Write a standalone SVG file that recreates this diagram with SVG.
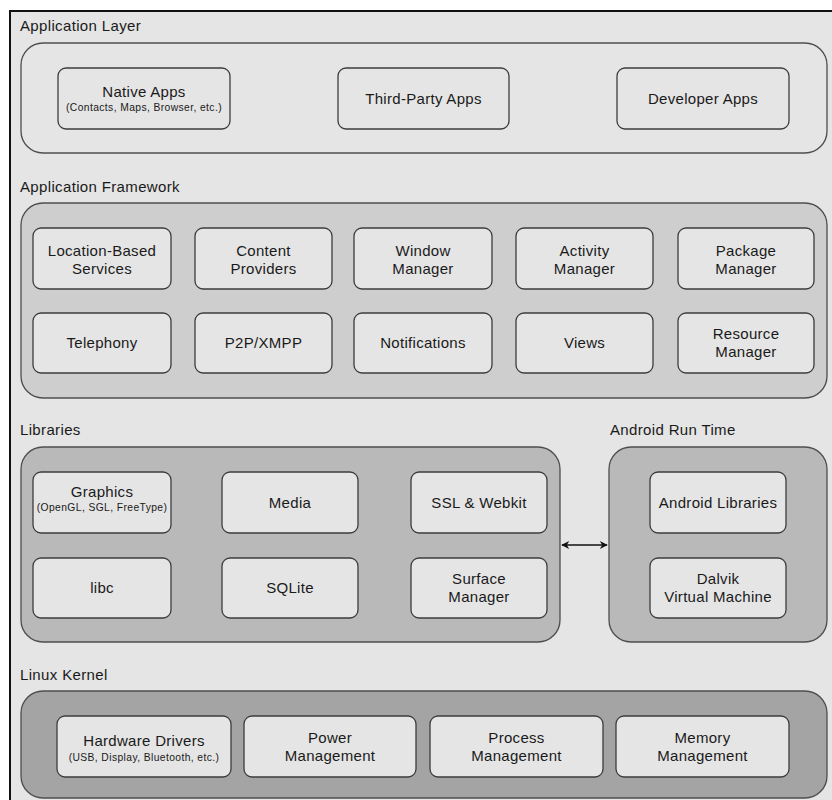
<svg xmlns="http://www.w3.org/2000/svg" width="832" height="800" viewBox="0 0 832 800">
<defs>
<style>
text{font-family:"Liberation Sans",Arial,sans-serif;fill:#1a1a1a}
.lbl{font-size:15px;letter-spacing:0.35px}
.t{font-size:15px;letter-spacing:0.3px;text-anchor:middle}
.s{font-size:10.3px;letter-spacing:0.4px;text-anchor:middle}
.cont{stroke:#4d4d4d;stroke-width:1.3}
.box{fill:#e5e5e5;stroke:#3c3c3c;stroke-width:1.3}
</style>
<marker id="ah" viewBox="0 0 10 10" refX="9" refY="5" markerWidth="9" markerHeight="8" markerUnits="userSpaceOnUse" orient="auto-start-reverse">
<path d="M0,0 L10,5 L0,10 L3,5 Z" fill="#111"/>
</marker>
</defs>
<rect x="0" y="0" width="832" height="800" fill="#ffffff"/>
<rect x="10" y="11" width="822" height="789" fill="#e5e5e5"/>
<path d="M10,800 V11 H832" fill="none" stroke="#111" stroke-width="2"/>

<g id="app-layer">
<text class="lbl" x="20" y="31">Application Layer</text>
<rect class="cont" x="21" y="43" width="806" height="110" rx="22" fill="#e5e5e5"/>
<g id="native-apps"><rect class="box" x="58" y="68" width="172" height="61" rx="8"/><text class="t" x="144" y="97">Native Apps</text><text class="s" x="144" y="111">(Contacts, Maps, Browser, etc.)</text></g>
<g id="third-party-apps"><rect class="box" x="338" y="68" width="171" height="61" rx="8"/><text class="t" x="423.5" y="104">Third-Party Apps</text></g>
<g id="developer-apps"><rect class="box" x="617" y="68" width="172" height="61" rx="8"/><text class="t" x="703" y="104">Developer Apps</text></g>
</g>

<g id="app-framework">
<text class="lbl" x="20" y="192">Application Framework</text>
<rect class="cont" x="21" y="203" width="806" height="195" rx="22" fill="#cecece"/>
<g id="location"><rect class="box" x="33" y="228" width="138" height="61" rx="8"/><text class="t" x="102" y="256">Location-Based</text><text class="t" x="102" y="273.5">Services</text></g>
<g id="content"><rect class="box" x="195" y="228" width="137" height="61" rx="8"/><text class="t" x="263.5" y="256">Content</text><text class="t" x="263.5" y="273.5">Providers</text></g>
<g id="window"><rect class="box" x="354" y="228" width="138" height="61" rx="8"/><text class="t" x="423" y="256">Window</text><text class="t" x="423" y="273.5">Manager</text></g>
<g id="activity"><rect class="box" x="516" y="228" width="137" height="61" rx="8"/><text class="t" x="584.5" y="256">Activity</text><text class="t" x="584.5" y="273.5">Manager</text></g>
<g id="package"><rect class="box" x="678" y="228" width="136" height="61" rx="8"/><text class="t" x="746" y="256">Package</text><text class="t" x="746" y="273.5">Manager</text></g>
<g id="telephony"><rect class="box" x="33" y="313" width="138" height="60" rx="8"/><text class="t" x="102" y="348">Telephony</text></g>
<g id="p2p"><rect class="box" x="195" y="313" width="137" height="60" rx="8"/><text class="t" x="263.5" y="348">P2P/XMPP</text></g>
<g id="notifications"><rect class="box" x="354" y="313" width="138" height="60" rx="8"/><text class="t" x="423" y="348">Notifications</text></g>
<g id="views"><rect class="box" x="516" y="313" width="137" height="60" rx="8"/><text class="t" x="584.5" y="348">Views</text></g>
<g id="resource"><rect class="box" x="678" y="313" width="136" height="60" rx="8"/><text class="t" x="746" y="339">Resource</text><text class="t" x="746" y="356.5">Manager</text></g>
</g>

<g id="libraries">
<text class="lbl" x="20" y="435">Libraries</text>
<rect class="cont" x="21" y="447" width="539" height="195" rx="22" fill="#b9b9b9"/>
<g id="graphics"><rect class="box" x="33" y="472" width="138" height="61" rx="8"/><text class="t" x="102" y="497">Graphics</text><text class="s" x="102" y="511">(OpenGL, SGL, FreeType)</text></g>
<g id="media"><rect class="box" x="222" y="472" width="136" height="61" rx="8"/><text class="t" x="290" y="508">Media</text></g>
<g id="ssl"><rect class="box" x="411" y="472" width="136" height="61" rx="8"/><text class="t" x="479" y="508">SSL &amp; Webkit</text></g>
<g id="libc"><rect class="box" x="33" y="558" width="138" height="60" rx="8"/><text class="t" x="102" y="593">libc</text></g>
<g id="sqlite"><rect class="box" x="222" y="558" width="136" height="60" rx="8"/><text class="t" x="290" y="593">SQLite</text></g>
<g id="surface"><rect class="box" x="411" y="558" width="136" height="60" rx="8"/><text class="t" x="479" y="584">Surface</text><text class="t" x="479" y="601.5">Manager</text></g>
</g>

<g id="android-runtime">
<text class="lbl" x="610" y="435">Android Run Time</text>
<rect class="cont" x="609" y="447" width="218" height="195" rx="22" fill="#b9b9b9"/>
<g id="android-libraries"><rect class="box" x="650" y="472" width="136" height="61" rx="8"/><text class="t" x="718" y="508">Android Libraries</text></g>
<g id="dalvik"><rect class="box" x="650" y="558" width="136" height="60" rx="8"/><text class="t" x="718" y="584">Dalvik</text><text class="t" x="718" y="601.5">Virtual Machine</text></g>
</g>

<g id="linux-kernel">
<text class="lbl" x="20" y="680">Linux Kernel</text>
<rect class="cont" x="21" y="691" width="806" height="107" rx="22" fill="#a4a4a4"/>
<g id="hardware"><rect class="box" x="57" y="716" width="174" height="61" rx="8"/><text class="t" x="144" y="746">Hardware Drivers</text><text class="s" x="144" y="760.5">(USB, Display, Bluetooth, etc.)</text></g>
<g id="power"><rect class="box" x="244" y="716" width="172" height="61" rx="8"/><text class="t" x="330" y="743">Power</text><text class="t" x="330" y="760.5">Management</text></g>
<g id="process"><rect class="box" x="430" y="716" width="173" height="61" rx="8"/><text class="t" x="516.5" y="743">Process</text><text class="t" x="516.5" y="760.5">Management</text></g>
<g id="memory"><rect class="box" x="616" y="716" width="173" height="61" rx="8"/><text class="t" x="702.5" y="743">Memory</text><text class="t" x="702.5" y="760.5">Management</text></g>
</g>

<g id="connectors">
<line x1="562" y1="545" x2="607" y2="545" stroke="#111" stroke-width="1.3" marker-start="url(#ah)" marker-end="url(#ah)"/>
</g>
</svg>
